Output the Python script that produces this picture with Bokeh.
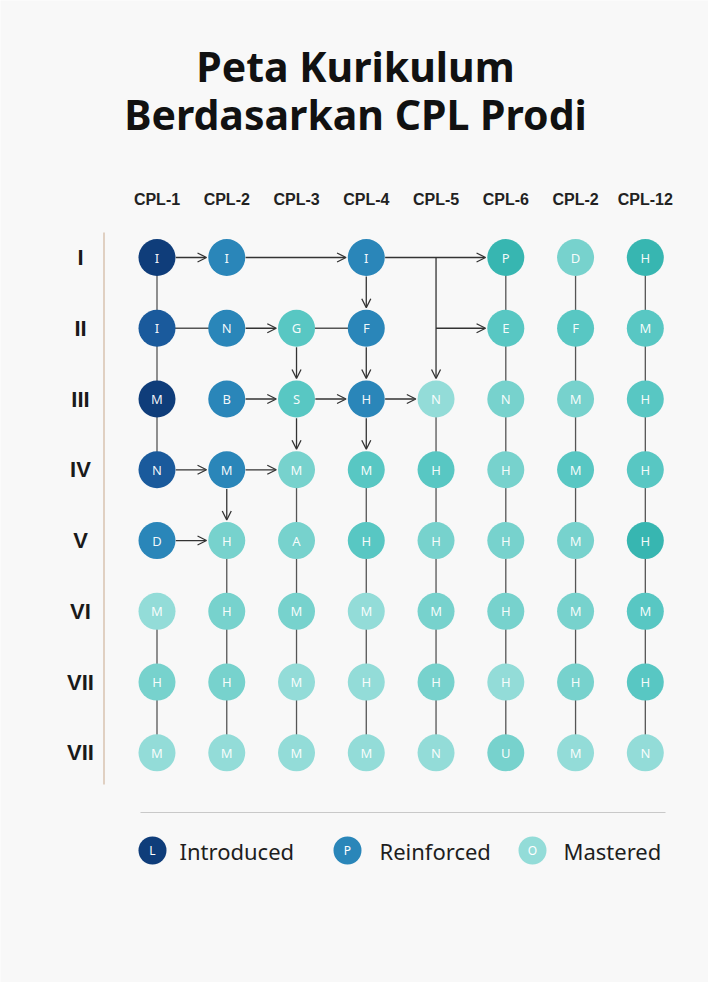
from bokeh.plotting import figure
from bokeh.models import Range1d, ColumnDataSource, Arrow, OpenHead
from bokeh.core.properties import value
from bokeh.embed import file_html
from bokeh.resources import INLINE

# ---------------- data ----------------
TITLE_LINES = ["Peta Kurikulum", "Berdasarkan CPL Prodi"]
COLUMNS = ["CPL-1", "CPL-2", "CPL-3", "CPL-4", "CPL-5", "CPL-6", "CPL-2", "CPL-12"]
ROWS = ["I", "II", "III", "IV", "V", "VI", "VII", "VII"]

LETTERS = [
    ["I", "I", None, "I", None, "P", "D", "H"],
    ["I", "N", "G", "F", None, "E", "F", "M"],
    ["M", "B", "S", "H", "N", "N", "M", "H"],
    ["N", "M", "M", "M", "H", "H", "M", "H"],
    ["D", "H", "A", "H", "H", "H", "M", "H"],
    ["M", "H", "M", "M", "M", "H", "M", "M"],
    ["H", "H", "M", "H", "H", "H", "H", "H"],
    ["M", "M", "M", "M", "N", "U", "M", "N"],
]
# 0 = introduced (dark) ... 6 = mastered (pale)
LEVELS = [
    [0, 2, None, 2, None, 3, 5, 3],
    [1, 2, 4, 2, None, 4, 4, 4],
    [0, 2, 4, 2, 6, 5, 5, 4],
    [1, 2, 5, 4, 4, 5, 4, 4],
    [2, 5, 5, 4, 5, 5, 5, 3],
    [6, 5, 5, 6, 5, 5, 5, 4],
    [5, 5, 6, 6, 5, 6, 5, 4],
    [6, 6, 6, 6, 6, 5, 6, 6],
]

# plain connections (col0, row0, col1, row1)
LINKS = [
    (0, 0, 0, 1), (0, 1, 0, 2), (0, 2, 0, 3), (0, 5, 0, 6), (0, 6, 0, 7),
    (1, 4, 1, 5), (1, 5, 1, 6), (1, 6, 1, 7),
    (2, 3, 2, 4), (2, 4, 2, 5), (2, 5, 2, 6), (2, 6, 2, 7),
    (3, 3, 3, 4), (3, 4, 3, 5), (3, 5, 3, 6), (3, 6, 3, 7),
    (4, 2, 4, 3), (4, 3, 4, 4), (4, 4, 4, 5), (4, 5, 4, 6), (4, 6, 4, 7),
    (5, 0, 5, 7), (6, 0, 6, 7), (7, 0, 7, 7),
    (0, 1, 1, 1), (2, 1, 3, 1),
]
# arrows (col0, row0, col1, row1)
ARROWS = [
    (0, 0, 1, 0), (1, 0, 3, 0), (3, 0, 5, 0),
    (1, 1, 2, 1), (4, 1, 5, 1), (4, 0, 4, 2),
    (1, 2, 2, 2), (2, 2, 3, 2), (3, 2, 4, 2),
    (0, 3, 1, 3), (1, 3, 2, 3), (0, 4, 1, 4),
    (2, 1, 2, 2), (2, 2, 2, 3),
    (3, 0, 3, 1), (3, 1, 3, 2), (3, 2, 3, 3),
    (1, 3, 1, 4),
]

LEGEND_LABELS = ["Introduced", "Reinforced", "Mastered"]
LEGEND_MARKS = ["L", "P", "O"]
LEGEND_LEVELS = [0, 2, 6]

PALETTE = ["#0f3d7a", "#1a5a9c", "#2a86b9", "#37b6b1", "#58c7c3", "#77d2cd", "#93dcd8"]

# ---------------- layout ----------------
W, H = 708, 982
X0, DX = 156.5, 69.76   # page px of column 0 and column spacing
Y0, DY = 257.0, 70.76   # page px of row 0 and row spacing


def fx(px):  # page x -> data x
    return (px - X0) / DX


def fy(py):  # page y -> data y
    return (py - Y0) / DY


p = figure(width=W, height=H, output_backend="svg", toolbar_location=None,
           x_range=Range1d(fx(0), fx(W)), y_range=Range1d(fy(H), fy(0)),
           x_axis_type=None, y_axis_type=None, min_border=0,
           background_fill_color="#f8f8f8", border_fill_color="#f8f8f8",
           outline_line_color=None)
p.grid.visible = False

# title
p.text(x=[fx(355)] * 2, y=[fy(65), fy(113)], text=TITLE_LINES,
       text_font=value("Noto Sans"), text_font_style="bold", text_font_size="41px",
       text_color="#111111", text_align="center", text_baseline="middle")

# column headers
p.text(x=list(range(len(COLUMNS))), y=[fy(199)] * len(COLUMNS), text=COLUMNS,
       text_font=value("Liberation Sans"), text_font_style="bold", text_font_size="16px",
       text_color="#222222", text_align="center", text_baseline="middle")

# row labels
p.text(x=[fx(80)] * len(ROWS), y=list(range(len(ROWS))), text=ROWS,
       text_font=value("Liberation Sans"), text_font_style="bold", text_font_size="22px",
       text_color="#1a1a1a", text_align="center", text_baseline="middle")

# vertical rule left of grid
p.segment(x0=[fx(103.5)], y0=[fy(232)], x1=[fx(103.5)], y1=[fy(784)],
          line_color="#d8c3b0", line_width=1.5)

# plain links
p.segment(x0=[l[0] for l in LINKS], y0=[l[1] for l in LINKS],
          x1=[l[2] for l in LINKS], y1=[l[3] for l in LINKS],
          line_color="#555555", line_width=1.3)


def is_node(c, r):
    return LETTERS[r][c] is not None


R_START, R_END = 0.27, 0.29
ax0, ay0, ax1, ay1 = [], [], [], []
for c0, r0, c1, r1 in ARROWS:
    dx, dy = c1 - c0, r1 - r0
    n = (dx * dx + dy * dy) ** 0.5
    ux, uy = dx / n, dy / n
    s = R_START if is_node(c0, r0) else 0.0
    ax0.append(c0 + ux * s)
    ay0.append(r0 + uy * s)
    ax1.append(c1 - ux * R_END)
    ay1.append(r1 - uy * R_END)

arr_src = ColumnDataSource(dict(x0=ax0, y0=ay0, x1=ax1, y1=ay1))
p.add_layout(Arrow(end=OpenHead(size=9, line_width=1.3, line_color="#333333"),
                   x_start="x0", y_start="y0", x_end="x1", y_end="y1",
                   source=arr_src, line_color="#333333", line_width=1.3))

# nodes
nx, ny, nt, nc = [], [], [], []
for r, row in enumerate(LETTERS):
    for c, t in enumerate(row):
        if t is None:
            continue
        nx.append(c)
        ny.append(r)
        nt.append(t)
        nc.append(PALETTE[LEVELS[r][c]])
src = ColumnDataSource(dict(x=nx, y=ny, t=nt, c=nc))
p.scatter("x", "y", source=src, size=37, fill_color="c", line_color=None)
p.text("x", "y", text="t", source=src, text_font=value("Noto Sans"),
       text_font_size="13px", text_color="#ffffff",
       text_alpha=0.95, text_align="center", text_baseline="middle")

# separator
p.segment(x0=[fx(140)], y0=[fy(812)], x1=[fx(665)], y1=[fy(812)],
          line_color="#c9c9c9", line_width=1)

# legend
lx = [fx(152), fx(347), fx(532)]
ly = [fy(850)] * 3
p.scatter(lx, ly, size=28, fill_color=[PALETTE[i] for i in LEGEND_LEVELS], line_color=None)
p.text(lx, ly, text=LEGEND_MARKS, text_font=value("Noto Sans"),
       text_font_size="12px", text_color="#ffffff", text_align="center", text_baseline="middle")
p.text([fx(179), fx(379), fx(563)], ly, text=LEGEND_LABELS, text_font=value("Noto Sans"),
       text_font_size="22px", text_color="#1e1e1e", text_align="left", text_baseline="middle")

open("out.html", "w").write(file_html(p, INLINE))
